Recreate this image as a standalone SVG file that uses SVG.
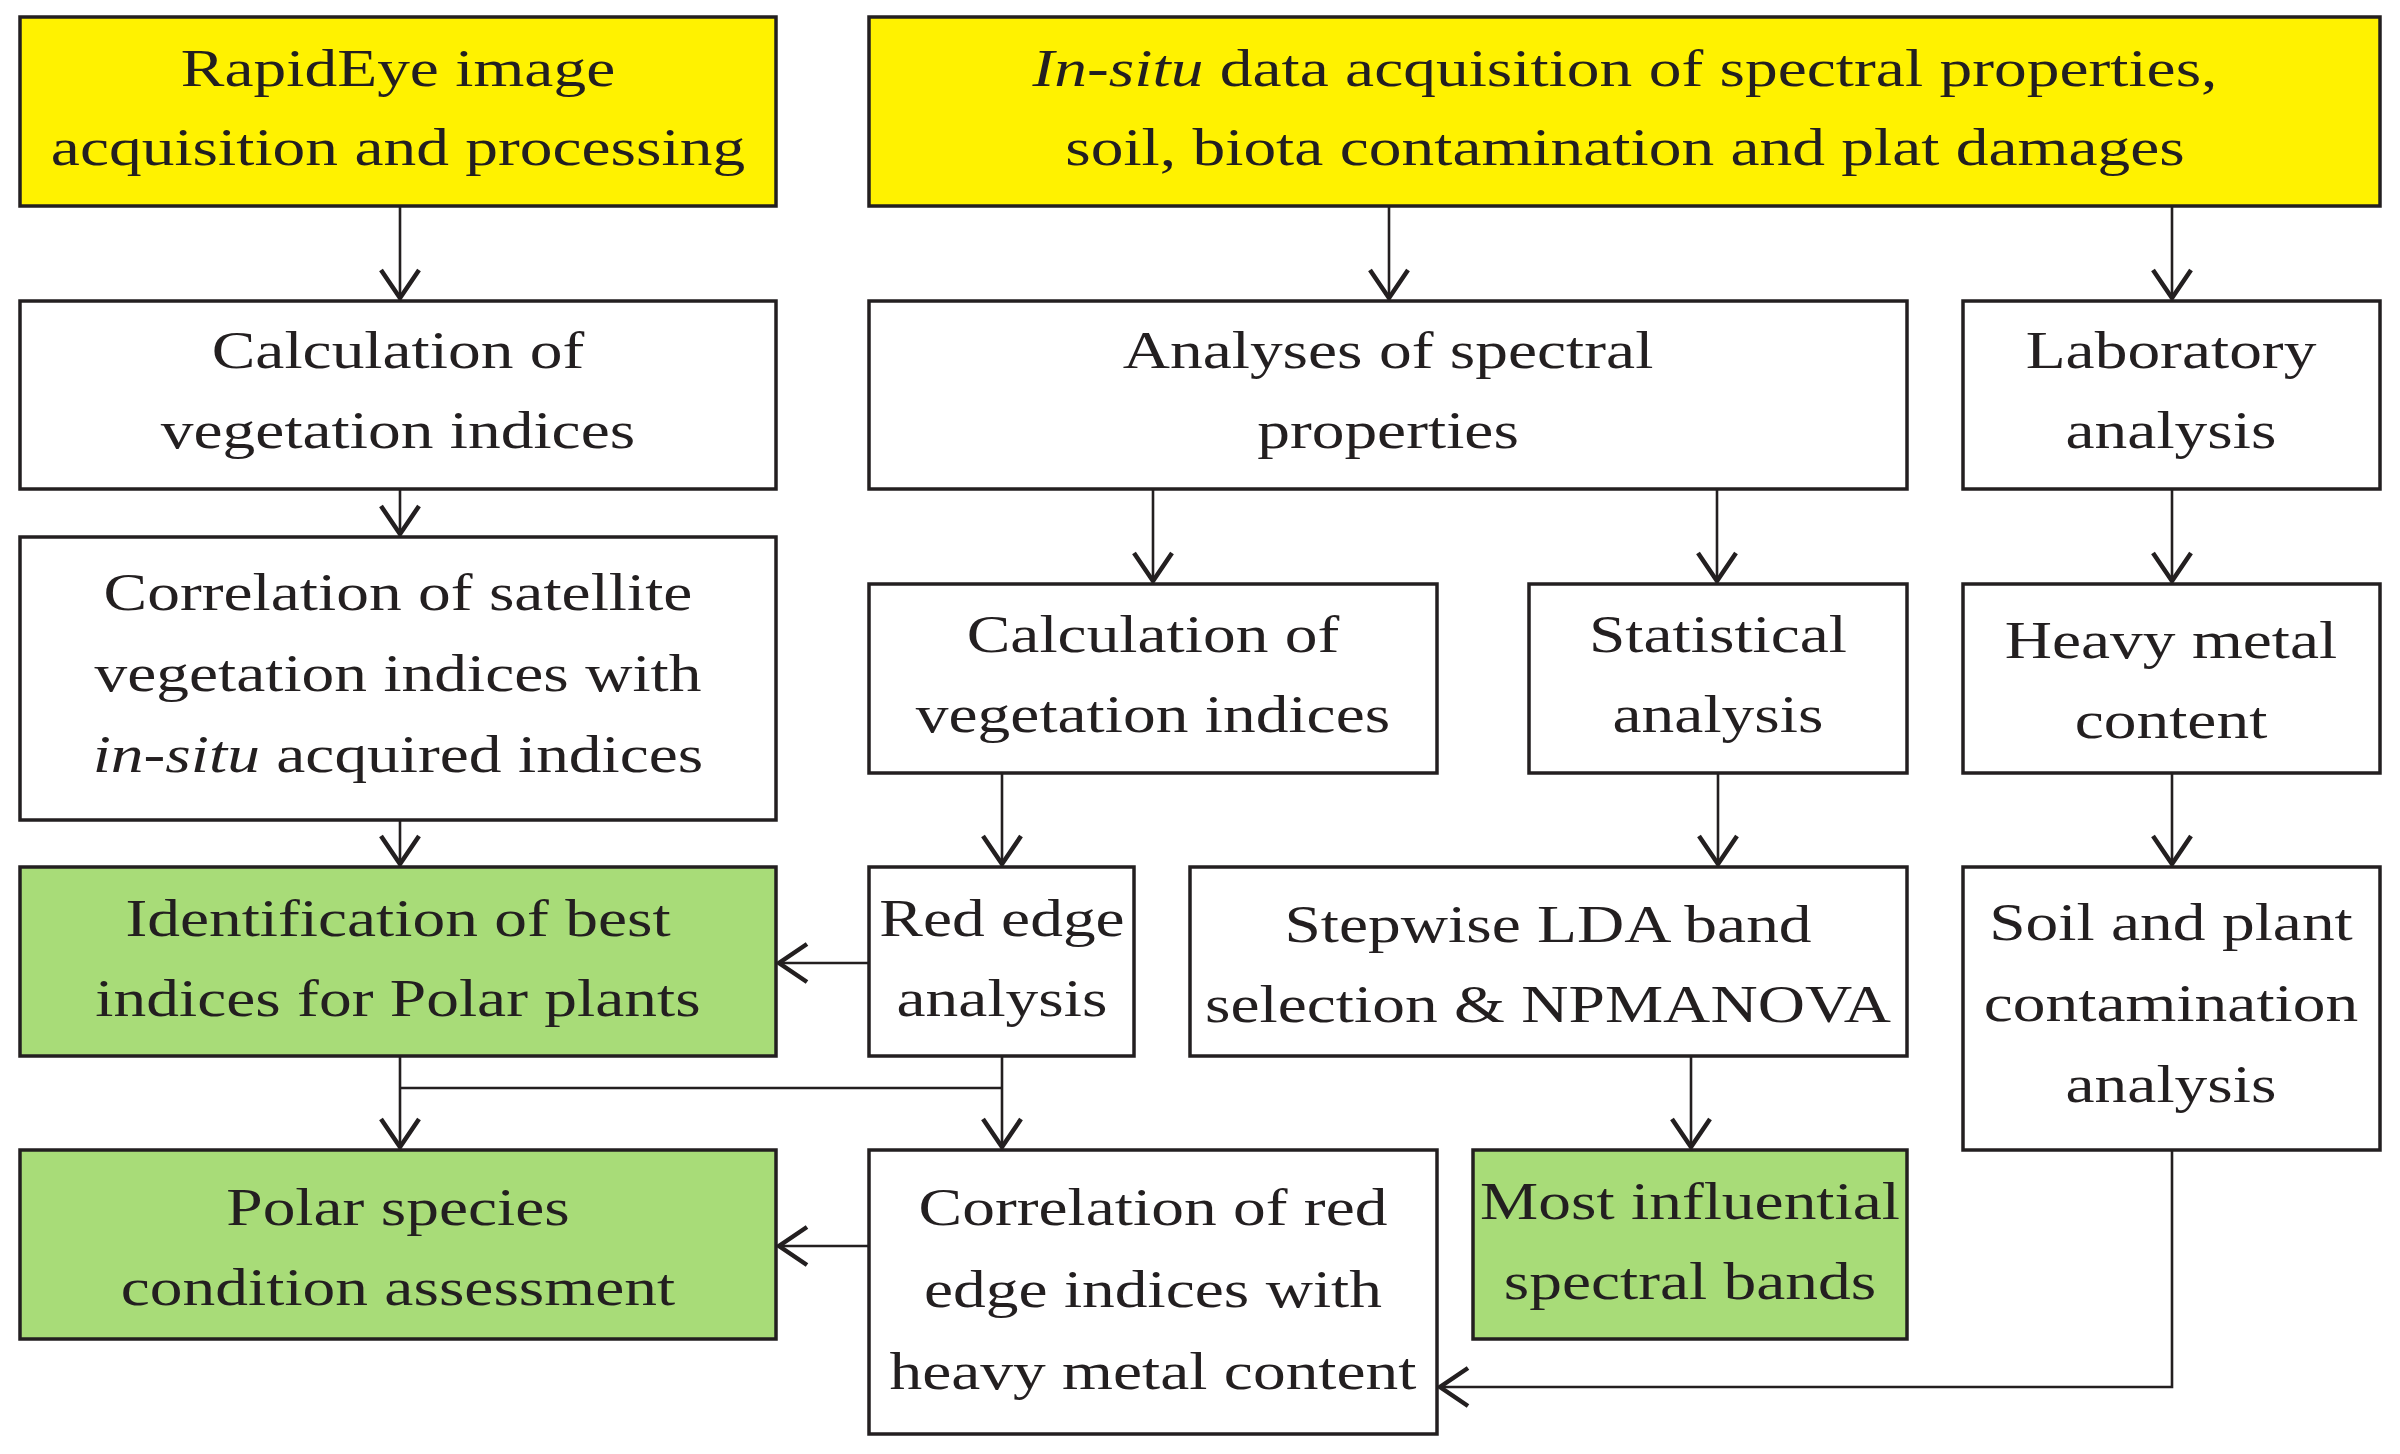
<svg xmlns="http://www.w3.org/2000/svg" width="2400" height="1454" viewBox="0 0 2400 1454">
<style>
.box{stroke:#231f20;stroke-width:3.5}
.w{fill:#ffffff}
.y{fill:#fff200}
.g{fill:#a8dc78}
.t{font-family:"Liberation Serif","Times New Roman",serif;font-size:53px;fill:#231f20;text-anchor:middle}
.i{font-style:italic}
.c{fill:none;stroke:#231f20;stroke-width:2.6}
</style>
<defs>
<marker id="arr" markerUnits="userSpaceOnUse" orient="auto" markerWidth="40" markerHeight="40" refX="0" refY="0" overflow="visible">
<path d="M-29,-19 L-1,0 L-29,19" fill="none" stroke="#231f20" stroke-width="4.5"/>
</marker>
</defs>
<rect width="2400" height="1454" fill="#ffffff"/>

<g id="n1"><rect class="box y" x="20" y="17" width="756" height="189"/>
<text class="t" transform="translate(398,0) scale(1.235,1)"><tspan x="0" y="86">RapidEye image</tspan><tspan x="0" y="165">acquisition and processing</tspan></text></g>

<g id="n2"><rect class="box y" x="869" y="17" width="1511" height="189"/>
<text class="t" transform="translate(1625,0) scale(1.235,1)"><tspan x="0" y="86"><tspan class="i">In-situ</tspan> data acquisition of spectral properties,</tspan><tspan x="0" y="165">soil, biota contamination and plat damages</tspan></text></g>

<g id="n3"><rect class="box w" x="20" y="301" width="756" height="188"/>
<text class="t" transform="translate(398,0) scale(1.235,1)"><tspan x="0" y="368">Calculation of</tspan><tspan x="0" y="448">vegetation indices</tspan></text></g>

<g id="n4"><rect class="box w" x="869" y="301" width="1038" height="188"/>
<text class="t" transform="translate(1388,0) scale(1.235,1)"><tspan x="0" y="368">Analyses of spectral</tspan><tspan x="0" y="448">properties</tspan></text></g>

<g id="n5"><rect class="box w" x="1963" y="301" width="417" height="188"/>
<text class="t" transform="translate(2171,0) scale(1.235,1)"><tspan x="0" y="368">Laboratory</tspan><tspan x="0" y="448">analysis</tspan></text></g>

<g id="n6"><rect class="box w" x="20" y="537" width="756" height="283"/>
<text class="t" transform="translate(398,0) scale(1.235,1)"><tspan x="0" y="610">Correlation of satellite</tspan><tspan x="0" y="691">vegetation indices with</tspan><tspan x="0" y="772"><tspan class="i">in-situ</tspan> acquired indices</tspan></text></g>

<g id="n7"><rect class="box w" x="869" y="584" width="568" height="189"/>
<text class="t" transform="translate(1153,0) scale(1.235,1)"><tspan x="0" y="652">Calculation of</tspan><tspan x="0" y="732">vegetation indices</tspan></text></g>

<g id="n8"><rect class="box w" x="1529" y="584" width="378" height="189"/>
<text class="t" transform="translate(1718,0) scale(1.235,1)"><tspan x="0" y="652">Statistical</tspan><tspan x="0" y="732">analysis</tspan></text></g>

<g id="n9"><rect class="box w" x="1963" y="584" width="417" height="189"/>
<text class="t" transform="translate(2171,0) scale(1.235,1)"><tspan x="0" y="658">Heavy metal</tspan><tspan x="0" y="738">content</tspan></text></g>

<g id="n10"><rect class="box g" x="20" y="867" width="756" height="189"/>
<text class="t" transform="translate(398,0) scale(1.235,1)"><tspan x="0" y="936">Identification of best</tspan><tspan x="0" y="1016">indices for Polar plants</tspan></text></g>

<g id="n11"><rect class="box w" x="869" y="867" width="265" height="189"/>
<text class="t" transform="translate(1002,0) scale(1.235,1)"><tspan x="0" y="936">Red edge</tspan><tspan x="0" y="1016">analysis</tspan></text></g>

<g id="n12"><rect class="box w" x="1190" y="867" width="717" height="189"/>
<text class="t" transform="translate(1548,0) scale(1.235,1)"><tspan x="0" y="942">Stepwise LDA band</tspan><tspan x="0" y="1022">selection &amp; NPMANOVA</tspan></text></g>

<g id="n13"><rect class="box w" x="1963" y="867" width="417" height="283"/>
<text class="t" transform="translate(2171,0) scale(1.235,1)"><tspan x="0" y="940">Soil and plant</tspan><tspan x="0" y="1021">contamination</tspan><tspan x="0" y="1102">analysis</tspan></text></g>

<g id="n14"><rect class="box g" x="20" y="1150" width="756" height="189"/>
<text class="t" transform="translate(398,0) scale(1.235,1)"><tspan x="0" y="1225">Polar species</tspan><tspan x="0" y="1305">condition assessment</tspan></text></g>

<g id="n15"><rect class="box w" x="869" y="1150" width="568" height="284"/>
<text class="t" transform="translate(1153,0) scale(1.235,1)"><tspan x="0" y="1225">Correlation of red</tspan><tspan x="0" y="1307">edge indices with</tspan><tspan x="0" y="1389">heavy metal content</tspan></text></g>

<g id="n16"><rect class="box g" x="1473" y="1150" width="434" height="189"/>
<text class="t" transform="translate(1690,0) scale(1.235,1)"><tspan x="0" y="1219">Most influential</tspan><tspan x="0" y="1299">spectral bands</tspan></text></g>

<g id="connectors">
<path class="c" d="M400 206 V299" marker-end="url(#arr)"/>
<path class="c" d="M400 489 V535" marker-end="url(#arr)"/>
<path class="c" d="M400 820 V865" marker-end="url(#arr)"/>
<path class="c" d="M400 1056 V1148" marker-end="url(#arr)"/>
<path class="c" d="M400 1088 H1002"/>
<path class="c" d="M1002 1056 V1148" marker-end="url(#arr)"/>
<path class="c" d="M869 963 H778" marker-end="url(#arr)"/>
<path class="c" d="M869 1246 H778" marker-end="url(#arr)"/>
<path class="c" d="M1389 206 V299" marker-end="url(#arr)"/>
<path class="c" d="M2172 206 V299" marker-end="url(#arr)"/>
<path class="c" d="M1153 489 V582" marker-end="url(#arr)"/>
<path class="c" d="M1717 489 V582" marker-end="url(#arr)"/>
<path class="c" d="M2172 489 V582" marker-end="url(#arr)"/>
<path class="c" d="M1002 773 V865" marker-end="url(#arr)"/>
<path class="c" d="M1718 773 V865" marker-end="url(#arr)"/>
<path class="c" d="M2172 773 V865" marker-end="url(#arr)"/>
<path class="c" d="M1691 1056 V1148" marker-end="url(#arr)"/>
<path class="c" d="M2172 1150 V1387 H1439" marker-end="url(#arr)"/>
</g>
</svg>
